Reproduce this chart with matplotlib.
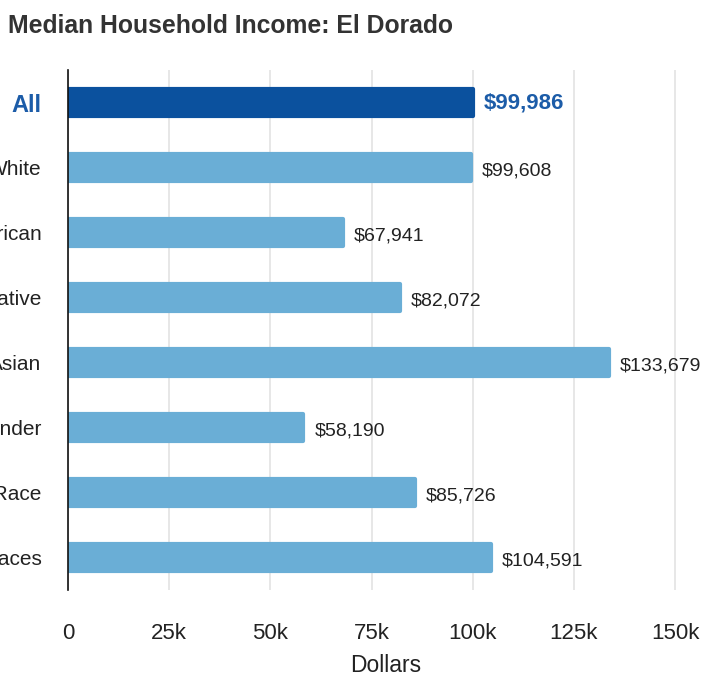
import matplotlib.pyplot as plt
from matplotlib.ticker import FuncFormatter

# data
groups = ["All", "White", "Black or African American", "American Indian & Alaska Native",
          "Asian", "Native Hawaiian & Other Pacific Islander", "Some Other Race",
          "Two or More Races"]
incomes = [99986, 99608, 67941, 82072, 133679, 58190, 85726, 104591]
x_ticks = [0, 25000, 50000, 75000, 100000, 125000, 150000]

DARK = "#0b519e"
LIGHT = "#6aaed6"
ALL_TXT = "#1c5ca8"

plt.rcParams["font.family"] = ["Liberation Sans", "DejaVu Sans"]

fig = plt.figure(figsize=(7.03, 6.88), dpi=100)
ax = fig.add_axes([68 / 703, 98 / 688, 1 - 68 / 703, 520 / 688])

ypos = list(range(len(groups)))
colors = [DARK] + [LIGHT] * (len(groups) - 1)
# thick edge with round joins gives the soft bar corners
ax.barh(ypos, incomes, height=0.42, color=colors, edgecolor=colors,
        linewidth=3, joinstyle="round", zorder=3)

for i, v in enumerate(incomes):
    if i == 0:
        ax.text(v + 2700, i, f"${v:,}", va="center", ha="left", fontsize=16,
                fontweight="bold", color=ALL_TXT)
    else:
        ax.text(v + 2700, i + 0.05, f"${v:,}", va="center", ha="left",
                fontsize=14, color="#222222")

ax.set_ylim(len(groups) - 0.5, -0.5)
ax.set_xlim(0, 635 / 607 * 150000)
ax.set_yticks(ypos)
ax.set_yticklabels(groups, fontsize=15, color="#222222")
ax.get_yticklabels()[0].set_fontweight("bold")
ax.get_yticklabels()[0].set_fontsize(17)
ax.get_yticklabels()[0].set_color(ALL_TXT)
ax.set_xticks(x_ticks)
ax.xaxis.set_major_formatter(FuncFormatter(lambda v, p: "0" if v == 0 else f"{int(v/1000)}k"))
ax.tick_params(axis="x", length=0, pad=24, labelsize=16, labelcolor="#222222")
ax.tick_params(axis="y", length=0, pad=19)
ax.grid(axis="x", color="#e3e3e3", linewidth=1.2, zorder=0)
for s in ["top", "right", "bottom"]:
    ax.spines[s].set_visible(False)
ax.spines["left"].set_color("#111111")
ax.spines["left"].set_linewidth(1.2)
ax.spines["left"].set_zorder(4)
ax.set_xlabel("Dollars", fontsize=16.5, color="#222222", labelpad=7)

fig.text(8 / 703, 1 - 26 / 688, "Median Household Income: El Dorado", fontsize=17.8,
         fontweight="bold", color="#333333", va="center", ha="left")

fig.savefig("out.png", dpi=100)
